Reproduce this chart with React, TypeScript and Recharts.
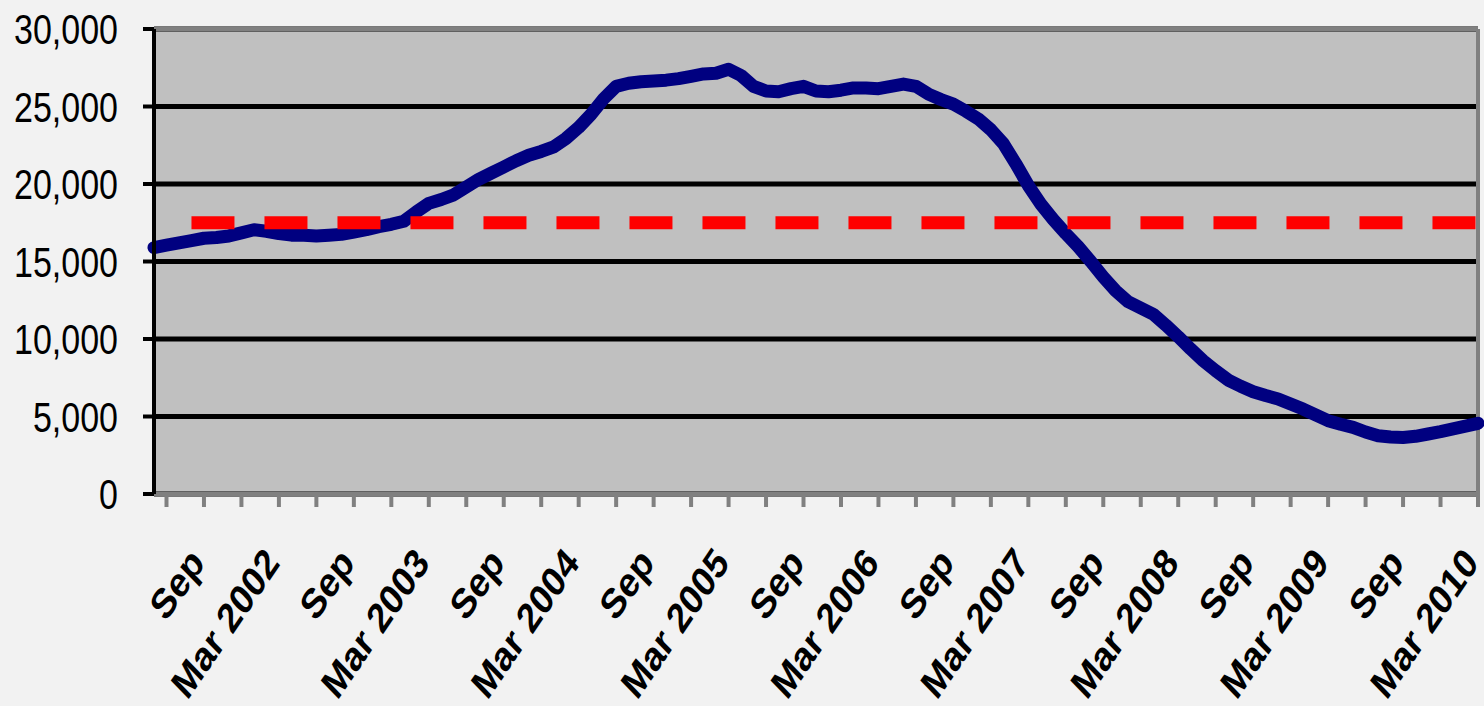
import {
  CartesianGrid,
  Line,
  LineChart,
  ReferenceLine,
  XAxis,
  YAxis,
} from "recharts";

// monthly values, May 2001 .. Mar 2010 (index 0 .. 106)
const monthlyValues = [
  15900, 16050, 16200, 16350, 16500, 16550, 16650, 16850, 17050, 16950,
  16800, 16700, 16700, 16650, 16700, 16750, 16900, 17050, 17250, 17400,
  17600, 18200, 18750, 19000, 19300, 19800, 20300, 20700, 21100, 21500,
  21850, 22100, 22400, 22950, 23650, 24500, 25500, 26300, 26500, 26600,
  26650, 26700, 26800, 26950, 27100, 27150, 27400, 27000, 26300, 26000,
  25950, 26150, 26300, 26000, 25950, 26050, 26200, 26200, 26150, 26300,
  26450, 26300, 25800, 25450, 25150, 24700, 24200, 23500, 22600, 21300,
  19900, 18700, 17700, 16800, 15950, 15000, 14000, 13100, 12400, 12000,
  11600, 10900, 10150, 9350, 8600, 7950, 7350, 6950, 6600, 6350,
  6130, 5800, 5480, 5100, 4730, 4500, 4300, 4000, 3760, 3680,
  3650, 3720, 3870, 4020, 4200, 4380, 4560,
];

const averageLevel = 17500;
const averageStart = 3;

const labelIndex = [4, 10, 16, 22, 28, 34, 40, 46, 52, 58, 64, 70, 76, 82, 88, 94, 100, 106];
const labelText = [
  "Sep", "Mar 2002", "Sep", "Mar 2003", "Sep", "Mar 2004", "Sep", "Mar 2005",
  "Sep", "Mar 2006", "Sep", "Mar 2007", "Sep", "Mar 2008", "Sep", "Mar 2009",
  "Sep", "Mar 2010",
];

const yTicks = [0, 5000, 10000, 15000, 20000, 25000, 30000];

const data = monthlyValues.map((v, i) => ({
  i,
  value: v,
  avg: i >= averageStart ? averageLevel : null,
}));

const xTicks: number[] = [];
for (let t = 1; t <= 106; t += 3) xTicks.push(t);

const FONT = "'Liberation Sans', Arial, sans-serif";

const XTick = (props: any) => {
  const { x, y, payload } = props;
  const k = labelIndex.indexOf(payload.value);
  if (k < 0) return <g />;
  return (
    <g transform={`translate(${x + 2},${y + 55}) scale(1,1.23) rotate(-50)`}>
      <text
        x={0}
        y={0}
        textAnchor="end"
        fontFamily={FONT}
        fontWeight="bold"
        fontSize={34}
        fill="#000"
      >
        {labelText[k]}
      </text>
    </g>
  );
};

const YTick = (props: any) => {
  const { x, y, payload } = props;
  return (
    <g transform={`translate(${x},${y}) scale(1,1.23)`}>
      <text
        x={0}
        y={0}
        dy="0.36em"
        textAnchor="end"
        fontFamily={FONT}
        fontSize={34}
        fill="#000"
      >
        {payload.value.toLocaleString("en-US")}
      </text>
    </g>
  );
};

const App = () => {
  return (
    <div
      style={{
        position: "absolute",
        left: 0,
        top: 0,
        width: 1484,
        height: 706,
        background: "#f2f2f2",
      }}
    >
      <LineChart
        width={1484}
        height={706}
        data={data}
        margin={{ top: 29, right: 6, left: 0, bottom: 0 }}
      >
        <CartesianGrid
          vertical={false}
          stroke="#000"
          strokeWidth={5}
          fill="#c0c0c0"
          fillOpacity={1}
        />
        <XAxis
          type="number"
          dataKey="i"
          domain={[0, 106]}
          ticks={xTicks}
          interval={0}
          height={212}
          axisLine={{ stroke: "#808080", strokeWidth: 4 }}
          tickLine={{ stroke: "#808080", strokeWidth: 4 }}
          tickSize={13}
          tick={<XTick />}
        />
        <YAxis
          domain={[0, 30000]}
          ticks={yTicks}
          interval={0}
          width={154}
          axisLine={{ stroke: "#000", strokeWidth: 4 }}
          tickLine={{ stroke: "#000", strokeWidth: 4 }}
          tickSize={11}
          tickMargin={25}
          tick={<YTick />}
        />
        <ReferenceLine y={30000} stroke="#808080" strokeWidth={4} />
        <ReferenceLine x={106} stroke="#808080" strokeWidth={4} />
        <Line
          type="linear"
          dataKey="value"
          stroke="#000080"
          strokeWidth={13}
          strokeLinejoin="round"
          strokeLinecap="round"
          dot={false}
          isAnimationActive={false}
        />
        <Line
          type="linear"
          dataKey="avg"
          stroke="#ff0000"
          strokeWidth={13}
          strokeDasharray="43 30"
          dot={false}
          isAnimationActive={false}
        />
      </LineChart>
    </div>
  );
};

export default App;
